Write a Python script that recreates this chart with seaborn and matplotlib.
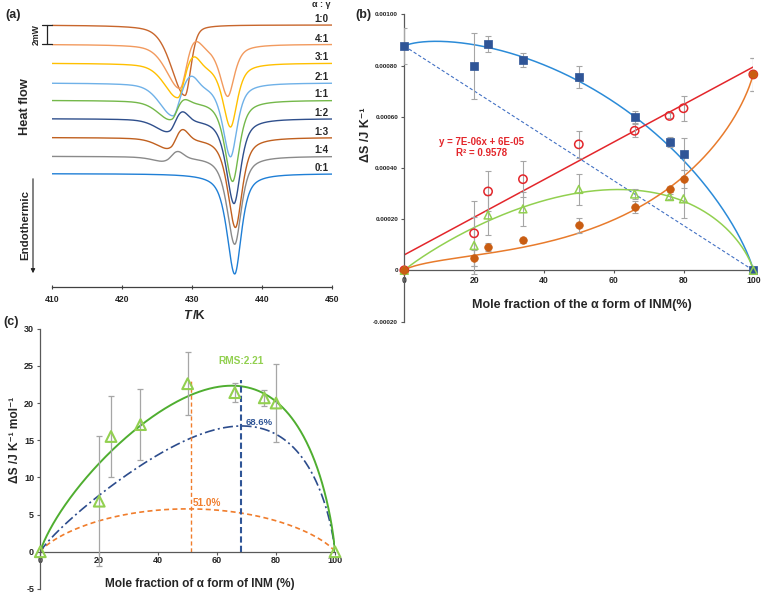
import numpy as np
import pandas as pd
import seaborn as sns
from matplotlib import pyplot as plt

# (a) DSC traces, alpha:gamma ratio, heat flow in mW
ratios = ['1:0', '4:1', '3:1', '2:1', '1:1', '1:2', '1:3', '1:4', '0:1']
trace_colors = ['#c8662c', '#f29a5e', '#ffc000', '#6fb1e8', '#74b84a',
                '#2f4f8c', '#c0601f', '#8a8a8a', '#1f7fd6']
baseline_mw = [0.0, -2.0, -3.95, -6.0, -7.8, -9.7, -11.65, -13.6, -15.4]
alpha_T = [429.0, 428.3, 428.0, 427.3, 427.1, 426.8, 427.0, 426.5, np.nan]
alpha_depth = [7.3, 4.5, 3.5, 3.3, 2.0, 1.35, 1.18, 0.52, 0.0]
exo_T = [np.nan, 430.4, 430.2, 429.9, 428.6, 428.5, 428.5, 427.8, np.nan]
exo_height = [0.0, 0.95, 1.2, 1.15, 0.6, 1.1, 1.25, 0.8, 0.0]
melt_T = [np.nan, 435.1, 435.5, 435.5, 435.8, 436.0, 436.2, 436.1, 436.1]
melt_depth = [0.0, 5.36, 6.6, 7.64, 8.4, 8.8, 9.33, 9.12, 10.4]

# (b) entropy per sample vs mole fraction of alpha form
frac_b = [0, 20, 24, 34, 50, 66, 76, 80, 100]
blue_y = [0.000876, 0.000798, 0.000884, 0.000820, 0.000755, 0.000598, 0.000501, 0.000454, 0.0]
blue_err = [0.00007, 0.000129, 0.00003, 0.000027, 0.000042, 0.000023, 0.000018, 0.000062, 0.0]
red_y = [0.0, 0.0001445, 0.000308, 0.000356, 0.000492, 0.000545, 0.000603, 0.000633, 0.000765]
red_err = [0.0, 0.000128, 0.000078, 0.00007, 0.000054, 0.000026, 0.00001, 0.000048, 0.000065]
green_y = [0.0, 0.000097, 0.000216, 0.00024, 0.000316, 0.000298, 0.000288, 0.000279, 0.0]
green_err = [0.0, 0.00011, 0.00008, 0.000065, 0.00006, 0.000018, 0.00001, 0.000075, 0.0]
orange_y = [0.0, 0.000048, 0.00009, 0.000118, 0.000176, 0.000248, 0.000316, 0.000356, 0.000765]
orange_err = [0.0, 0.00003, 0.000015, 0.00001, 0.00003, 0.000024, 0.00001, 0.000036, 0.000065]
# trend parameters: [at 0, at 1, a (x ln x), b ((1-x) ln(1-x)), c x(1-x)]
blue_fit = [875e-6, 0.0, 180e-6, 690e-6, 0.0]
green_fit = [0.0, 0.0, 77.5e-6, 795.7e-6, 0.0]
orange_fit = [0.0, 770e-6, 191e-6, -882e-6, 0.0]

# (c) molar entropy of mixing
frac_c = [0, 20, 24, 34, 50, 66, 76, 80, 100]
ds_c = [0.0, 6.8, 15.5, 17.1, 22.6, 21.4, 20.7, 20.0, 0.0]
ds_c_err = [0.0, 8.7, 5.5, 4.75, 4.25, 1.3, 1.1, 5.3, 0.0]
R_GAS = 8.314
fit_c = [0.0, 0.0, 18.15, 76.05, -47.0]
model_c = [0.0, 0.0, 7.25, 64.45, -39.0]
ideal_c = [0.0, 0.0, R_GAS, R_GAS, 0.0]
max_lines_x = [51.3, 68.0]
max_lines_top = [23.1, 23.1]


def dip(T, T0, depth, wl, wr, eta):
    # asymmetric pseudo-Voigt, w = half width at half depth
    if depth == 0 or np.isnan(T0):
        return np.zeros_like(T)
    w = np.where(T < T0, wl, wr)
    d = (T - T0) / w
    return depth * (eta / (1 + d ** 2) + (1 - eta) * np.exp(-np.log(2) * d ** 2))


def bump(T, T0, height, s):
    if height == 0 or np.isnan(T0):
        return np.zeros_like(T)
    return height * np.exp(-0.5 * ((T - T0) / s) ** 2)


def trend(f, p):
    lo, hi, a, b, c = p
    t1 = np.where(f > 0, f * np.log(np.clip(f, 1e-12, None)), 0.0)
    t2 = np.where(f < 1, (1 - f) * np.log(np.clip(1 - f, 1e-12, None)), 0.0)
    return lo * (1 - f) + hi * f - (a * t1 + b * t2) + c * f * (1 - f)


sns.set_theme(style='white')
plt.rcParams['font.family'] = ['Liberation Sans', 'DejaVu Sans']
plt.rcParams['font.weight'] = 'bold'
plt.rcParams['axes.unicode_minus'] = False

W, H = 761, 593


def fx(x):
    return x / W


def fy(y):
    return 1 - y / H


fig = plt.figure(figsize=(W / 100, H / 100), dpi=100)
AX_COL = '#595959'
ERR_COL = '#a6a6a6'

# ---------------- (a)
ax_a = fig.add_axes([fx(52), fy(287), 280 / W, 277 / H])
T = np.linspace(410, 450, 801)
rows = []
for i, r in enumerate(ratios):
    hf = (baseline_mw[i]
          - dip(T, alpha_T[i], alpha_depth[i], 2.3, 1.0, 0.4)
          + bump(T, exo_T[i], exo_height[i], 0.9)
          - dip(T, melt_T[i], melt_depth[i], 1.3, 1.15, 0.7))
    rows.append(pd.DataFrame({'T': T, 'hf': hf, 'ratio': r}))
dsc = pd.concat(rows, ignore_index=True)
sns.lineplot(data=dsc, x='T', y='hf', hue='ratio', hue_order=ratios,
             palette=dict(zip(ratios, trace_colors)), estimator=None, sort=False,
             legend=False, lw=1.0, ax=ax_a)
px_per_mw = 9.65
ymax = 15 / px_per_mw
ax_a.set_xlim(410, 450)
ax_a.set_ylim(ymax - 277 / px_per_mw, ymax)
ax_a.set_yticks([])
ax_a.set_xticks(range(410, 451, 10))
ax_a.set_xlabel('')
ax_a.set_ylabel('')
for s in ['left', 'top', 'right']:
    ax_a.spines[s].set_visible(False)
ax_a.spines['bottom'].set_color('#404040')
ax_a.spines['bottom'].set_linewidth(0.9)
ax_a.tick_params(axis='x', direction='inout', length=3, width=0.8, color='#404040',
                 labelsize=6.2, pad=4, bottom=True)
ax_a.set_facecolor('none')
for i, r in enumerate(ratios):
    ax_a.text(448.5, baseline_mw[i] + 0.6, r, ha='center', va='center', fontsize=7, clip_on=False)
ax_a.text(448.5, ymax + 0.62, 'α : γ', ha='center', va='center', fontsize=6.5, clip_on=False)
# 2 mW scale bar
ax_a.plot([409.29, 409.29], [0, -2], color='#222222', lw=0.9, clip_on=False)
ax_a.plot([408.6, 409.95], [0, 0], color='#222222', lw=0.9, clip_on=False)
ax_a.plot([408.6, 409.95], [-2, -2], color='#222222', lw=0.9, clip_on=False)
ax_a.text(407.75, -1.0, '2mW', rotation=90, ha='center', va='center', fontsize=6.3, clip_on=False)

fig.text(fx(25), fy(107), 'Heat flow', rotation=90, ha='center', va='center', fontsize=9.2)
fig.text(fx(25), fy(225), 'Endothermic', rotation=90, ha='center', va='center', fontsize=8.2)
fig.add_artist(plt.matplotlib.patches.FancyArrowPatch(
    (fx(33), fy(176)), (fx(33), fy(276)), transform=fig.transFigure,
    arrowstyle='-|>', mutation_scale=6, lw=0.8, color='#222222'))
fig.text(fx(190.5), fy(316), 'T', style='italic', ha='right', va='center', fontsize=9)
fig.text(fx(192.5), fy(316), '/K', ha='left', va='center', fontsize=9)
fig.text(fx(5), fy(15), '(a)', ha='left', va='center', fontsize=9)

# ---------------- (b)
ax_b = fig.add_axes([fx(404.3), fy(321.5), 349 / W, 307.2 / H])
fb = np.linspace(0, 1, 500)
xb = fb * 100
ax_b.plot([frac_b[0], frac_b[-1]], [blue_y[0], blue_y[-1]], color='#4472c4',
          lw=0.8, dashes=(3, 2))
sns.lineplot(x=xb, y=trend(fb, blue_fit), color='#2b8bd8', lw=1.1, ax=ax_b)
red_coef = np.polyfit(frac_b, red_y, 1)
sns.lineplot(x=[0, 100], y=np.polyval(red_coef, [0, 100]), color='#e3262b', lw=1.1, ax=ax_b)
sns.lineplot(x=xb, y=trend(fb, green_fit), color='#92d050', lw=1.1, ax=ax_b)
sns.lineplot(x=xb, y=trend(fb, orange_fit), color='#e87b2c', lw=1.1, ax=ax_b)

for ys, es in [(blue_y, blue_err), (red_y, red_err), (green_y, green_err), (orange_y, orange_err)]:
    xs = np.array(frac_b)
    ys = np.array(ys)
    es = np.array(es)
    m = es > 0
    ax_b.errorbar(xs[m], ys[m], yerr=es[m], fmt='none', ecolor=ERR_COL, elinewidth=0.8,
                  capsize=2.2, capthick=0.8, zorder=3)

sns.scatterplot(x=frac_b, y=blue_y, marker='s', s=30, color='#2f5597', edgecolor='#2f5597',
                linewidth=0.5, zorder=5, clip_on=False, ax=ax_b)
sns.scatterplot(x=frac_b, y=red_y, marker='o', s=36, facecolors='none', edgecolors='#e3262b',
                linewidths=1.1, zorder=5, clip_on=False, ax=ax_b)
sns.scatterplot(x=frac_b, y=green_y, marker='^', s=32, facecolors='none', edgecolors='#92d050',
                linewidths=1.1, zorder=5, clip_on=False, ax=ax_b)
sns.scatterplot(x=frac_b, y=orange_y, marker='o', s=30, color='#c95d12', edgecolor='#c95d12',
                linewidth=0.5, zorder=6, clip_on=False, ax=ax_b)

ax_b.set_xlim(0, 100)
ax_b.set_ylim(-0.0002, 0.001)
ax_b.set_xticks(range(0, 101, 20))
ax_b.set_yticks(np.arange(-0.0002, 0.00101, 0.0002))
ax_b.yaxis.set_major_formatter(plt.FuncFormatter(lambda v, p: '0' if abs(v) < 1e-9 else f'{v:.5f}'))
for s in ['top', 'right']:
    ax_b.spines[s].set_visible(False)
ax_b.spines['bottom'].set_position(('data', 0))
for s in ['bottom', 'left']:
    ax_b.spines[s].set_color(AX_COL)
    ax_b.spines[s].set_linewidth(0.9)
ax_b.tick_params(axis='x', direction='out', length=2.5, width=0.8, color=AX_COL,
                 labelsize=6.2, pad=1.5, bottom=True)
ax_b.tick_params(axis='y', direction='out', length=2.5, width=0.8, color=AX_COL,
                 labelsize=4.6, pad=2, left=True)
ax_b.set_facecolor('none')
ax_b.text(22, 0.000501, 'y = 7E-06x + 6E-05', ha='center', va='center', color='#e3262b', fontsize=7)
ax_b.text(22, 0.000457, 'R² = 0.9578', ha='center', va='center', color='#e3262b', fontsize=7)
fig.text(fx(582), fy(305), 'Mole fraction of the α form of INM(%)', ha='center', va='center', fontsize=9)
fig.text(fx(366), fy(135), 'ΔS /J K⁻¹', rotation=90, ha='center', va='center', fontsize=9)
fig.text(fx(355), fy(15), '(b)', ha='left', va='center', fontsize=9)

# ---------------- (c)
ax_c = fig.add_axes([fx(40.3), fy(588.9), 294.7 / W, 260.2 / H])
fc = np.linspace(0, 1, 800)
xc = fc * 100
sns.lineplot(x=xc, y=trend(fc, ideal_c), color='#f07d2c', lw=1.2, ax=ax_c).lines[-1].set_dashes((3, 2))
sns.lineplot(x=xc, y=trend(fc, model_c), color='#2c4c8c', lw=1.2, ax=ax_c).lines[-1].set_dashes((6, 2, 1.2, 2))
sns.lineplot(x=xc, y=trend(fc, fit_c), color='#4fae30', lw=1.4, ax=ax_c)
ax_c.plot([max_lines_x[0]] * 2, [0, max_lines_top[0]], color='#f07d2c', lw=1.0, dashes=(3, 2))
ax_c.plot([max_lines_x[1]] * 2, [0, max_lines_top[1]], color='#2f5597', lw=1.5, dashes=(3, 1.5))

xs = np.array(frac_c)
m = np.array(ds_c_err) > 0
ax_c.errorbar(xs[m], np.array(ds_c)[m], yerr=np.array(ds_c_err)[m], fmt='none', ecolor=ERR_COL,
              elinewidth=0.9, capsize=2.5, capthick=0.9, zorder=3)
sns.scatterplot(x=frac_c, y=ds_c, marker='^', s=60, facecolors='none', edgecolors='#92d050',
                linewidths=1.5, zorder=5, clip_on=False, ax=ax_c)

ax_c.set_xlim(0, 100)
ax_c.set_ylim(-5, 30)
ax_c.set_xticks(range(0, 101, 20))
ax_c.set_yticks(range(-5, 31, 5))
for s in ['top', 'right']:
    ax_c.spines[s].set_visible(False)
ax_c.spines['bottom'].set_position(('data', 0))
for s in ['bottom', 'left']:
    ax_c.spines[s].set_color(AX_COL)
    ax_c.spines[s].set_linewidth(0.9)
ax_c.tick_params(axis='x', direction='out', length=2, width=0.8, color=AX_COL,
                 labelsize=6.5, pad=0.8, bottom=True)
ax_c.tick_params(axis='y', direction='out', length=2.5, width=0.8, color=AX_COL,
                 labelsize=6.5, pad=2, left=True)
ax_c.set_facecolor('none')
ax_c.text(60.4, 25.7, 'RMS:2.21', ha='left', va='center', color='#92d050', fontsize=7.3)
ax_c.text(69.8, 17.4, '68.6%', ha='left', va='center', color='#2f5597', fontsize=6.8)
ax_c.text(51.6, 5.9, '51.0%', ha='left', va='bottom', color='#f07d2c', fontsize=7.2)
fig.text(fx(200), fy(584), 'Mole fraction of α form of INM (%)', ha='center', va='center', fontsize=8.6)
fig.text(fx(15), fy(440), 'ΔS /J K⁻¹ mol⁻¹', rotation=90, ha='center', va='center', fontsize=8.6)
fig.text(fx(3), fy(322), '(c)', ha='left', va='center', fontsize=9)

fig.savefig('out.png', dpi=100)
